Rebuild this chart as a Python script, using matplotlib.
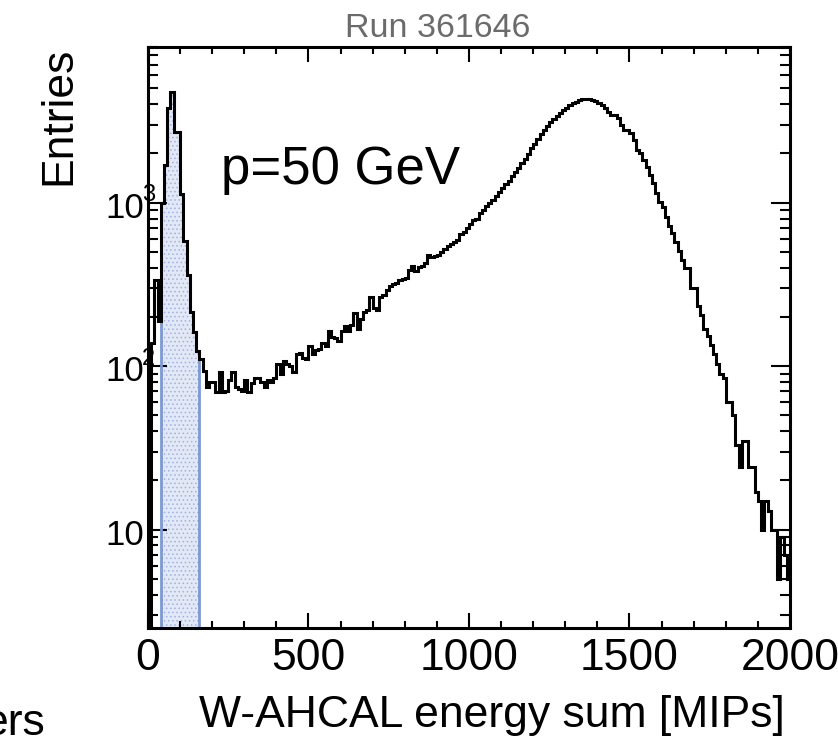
"""W-AHCAL energy sum for run 361646 (p = 50 GeV), log scale.

Histogram in 10 MIP bins; the MIP-like selection window (40-160 MIPs)
is shaded in blue, ROOT style frame with inward ticks on all sides.
Writes out.png.
"""

import matplotlib

matplotlib.use("Agg")
import matplotlib.pyplot as plt
import matplotlib.transforms as mtransforms
import numpy as np
from matplotlib.ticker import (FixedLocator, LogLocator, MultipleLocator,
                               NullFormatter)

plt.rcParams["font.family"] = ["Liberation Sans", "DejaVu Sans"]
plt.rcParams["hatch.linewidth"] = 0.6

# eje x: 0 - 2000 MIPs en bins de 10
BIN_WIDTH = 10
X_MIN = 0
X_MAX = 2000
Y_MIN = 2.5
Y_MAX = 9000

# entradas por bin (bin i = [10 i, 10 i + 10))
ENTRIES = [
    0, 139, 338, 190, 1000, 1700, 3770, 4750, 2700, 2700,
    1130, 580, 360, 214, 162, 123, 110, 93, 75, 80,
    80, 69, 92, 69, 70, 82, 92, 74, 72, 70,
    82, 69, 79, 85, 84, 80, 75, 82, 80, 84,
    103, 90, 107, 103, 100, 92, 118, 121, 112, 110,
    133, 118, 126, 128, 139, 133, 164, 150, 148, 143,
    164, 176, 164, 178, 212, 168, 193, 214, 222, 263,
    228, 222, 265, 272, 292, 310, 316, 322, 335, 340,
    345, 389, 410, 382, 405, 410, 428, 480, 463, 470,
    480, 500, 520, 540, 555, 575, 590, 640, 660, 700,
    740, 780, 800, 860, 900, 950, 990, 1040, 1100, 1160,
    1230, 1300, 1360, 1450, 1540, 1640, 1750, 1850, 1980, 2150,
    2300, 2450, 2650, 2800, 2950, 3100, 3250, 3380, 3550, 3700,
    3800, 3950, 4080, 4150, 4250, 4300, 4330, 4300, 4250, 4200,
    4050, 3950, 3800, 3600, 3420, 3420, 3300, 2970, 2770, 2770,
    2660, 2410, 2100, 2010, 1820, 1660, 1475, 1315, 1145, 1015,
    945, 822, 715, 652, 578, 503, 447, 400, 400, 302,
    302, 232, 206, 168, 152, 135, 118, 103, 89, 85,
    60, 60, 50, 33, 24, 35, 35, 24, 24, 17,
    15, 10, 15, 13, 10, 10, 5, 9, 7, 5,
]

SELECTION_LOW = 40
SELECTION_HIGH = 160

X_TICKS = [0, 500, 1000, 1500, 2000]
Y_TICKS = [10, 100, 1000]
# base y exponente de cada etiqueta del eje y ("" = sin exponente)
Y_TICK_BASES = ["10", "10", "10"]
Y_TICK_EXPONENTS = ["", "2", "3"]

RUN_LABEL = "Run 361646"
BEAM_LABEL = "p=50 GeV"
X_LABEL = "W-AHCAL energy sum [MIPs]"
Y_LABEL = "Entries"
CUT_LABEL = "ers"

LINE_BLUE = "#7d99d4"
FILL_BLUE = "#e2e8f6"
DOT_BLUE = "#9fb2df"


def main():
    counts = np.array(ENTRIES, dtype=float)
    edges = np.arange(X_MIN, X_MAX + BIN_WIDTH, BIN_WIDTH)

    # como en ROOT, los bins vacios quedan sobre el borde inferior
    shown = np.clip(counts, Y_MIN, None)
    in_window = (edges[:-1] >= SELECTION_LOW) & (edges[:-1] < SELECTION_HIGH)
    selected = np.clip(np.where(in_window, counts, 0), Y_MIN, None)

    fig = plt.figure(figsize=(8.38, 7.38), dpi=100)
    ax = fig.add_axes([0.1766, 0.1491, 0.7661, 0.7876])

    ax.stairs(selected, edges, baseline=Y_MIN, fill=True,
              facecolor=FILL_BLUE, edgecolor=DOT_BLUE, hatch="....",
              linewidth=0, zorder=1)
    ax.stairs(selected, edges, baseline=None, color=LINE_BLUE,
              linewidth=2.0, zorder=2)
    ax.stairs(shown, edges, baseline=None, color="black",
              linewidth=2.2, zorder=3)

    ax.set_xlim(X_MIN, X_MAX)
    ax.set_yscale("log")
    ax.set_ylim(Y_MIN, Y_MAX)

    ax.xaxis.set_major_locator(FixedLocator(X_TICKS))
    ax.xaxis.set_minor_locator(MultipleLocator(100))
    ax.yaxis.set_major_locator(FixedLocator(Y_TICKS))
    ax.yaxis.set_major_formatter(NullFormatter())
    ax.yaxis.set_minor_locator(LogLocator(base=10, subs=range(2, 10)))
    ax.yaxis.set_minor_formatter(NullFormatter())

    ax.tick_params(which="both", direction="in", top=True, right=True,
                   width=1.5)
    ax.tick_params(axis="x", which="major", length=11, pad=7.5,
                   labelsize=32)
    ax.tick_params(axis="x", which="minor", length=5)
    ax.tick_params(axis="y", which="major", length=14)
    ax.tick_params(axis="y", which="minor", length=7)
    for spine in ax.spines.values():
        spine.set_linewidth(2.2)

    # etiquetas del eje y: "10" y el exponente pequeno arriba a la derecha
    label_trans = mtransforms.blended_transform_factory(
        fig.transFigure, ax.transData
    ) + mtransforms.ScaledTranslation(0, -11 / 72, fig.dpi_scale_trans)
    for value, base, exponent in zip(Y_TICKS, Y_TICK_BASES,
                                     Y_TICK_EXPONENTS):
        base_text = ax.text(105 / 838, value, base, transform=label_trans,
                            fontsize=25, ha="left", va="baseline")
        if exponent:
            ax.annotate(exponent, xy=(1.0, 1.0), xycoords=base_text,
                        xytext=(-1, 5.5), textcoords="offset points",
                        fontsize=17, ha="left", va="top")

    ax.set_xlabel(X_LABEL, fontsize=32, ha="right", va="baseline")
    ax.xaxis.set_label_coords(0.992, -0.170)
    ax.set_ylabel(Y_LABEL, fontsize=32, ha="right", va="baseline")
    ax.yaxis.set_label_coords(-0.121, 1.0)

    ax.text(0.1137, 0.7646, BEAM_LABEL, transform=ax.transAxes,
            fontsize=38, va="baseline")
    fig.text(438 / 838, 701 / 738, RUN_LABEL, fontsize=24.5,
             color="#6b6b6b", ha="center", va="baseline")
    fig.text(45 / 838, 3 / 738, CUT_LABEL, fontsize=32,
             ha="right", va="baseline")

    fig.savefig("out.png", dpi=100)
    plt.close(fig)


if __name__ == "__main__":
    main()
